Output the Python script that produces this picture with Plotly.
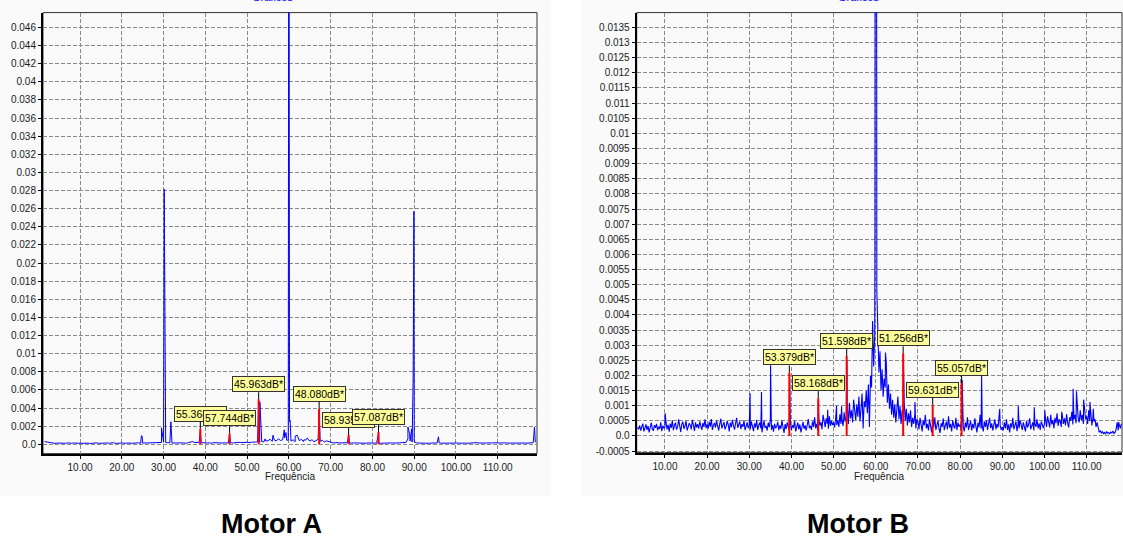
import plotly.graph_objects as go

FONT = "Liberation Sans, Arial, Helvetica, sans-serif"
UNIT = 1e-5  # spectrum values below are in units of 1e-5

# ---------------- Motor A spectrum ----------------
motor_a_start = 1.5
motor_a_step = 0.5
motor_a_base = [
    30, 25, 18, 12, 15, 10, 14, 12, 9, 13, 11, 15, 10, 12, 14, 9, 12, 11,
    13, 10, 15, 12, 9, 14, 11, 16, 10, 12, 13, 9, 15, 11, 12, 18, 10, 13, 11, 14,
    12, 15, 10, 13, 11, 14, 12, 16, 10, 13, 14, 11, 15, 12, 18, 14, 22, 16, 20, 25,
    20, 16, 18, 14, 15, 12, 14, 16, 13, 15, 12, 20, 25, 30, 18, 22, 15, 18, 14, 16,
    14, 16, 12, 18, 15, 13, 17, 14, 16, 18, 15, 20, 14, 18, 16, 22, 18, 15, 20, 24,
    18, 22, 20, 25, 28, 22, 30, 26, 35, 40, 55, 32, 48, 36, 60, 42, 50, 70, 45, 9000,
    35, 50, 28, 100, 40, 55, 30, 45, 60, 35, 50, 28, 40, 55, 32, 45, 25, 38, 30, 22,
    18, 15, 20, 14, 16, 12, 15, 18, 13, 14, 16, 12, 15, 13, 11, 14, 12, 15, 13, 12,
    14, 12, 15, 11, 13, 12, 14, 11, 15, 13, 12, 14, 16, 18, 15, 20, 60, 35, 25, 30,
    16, 14, 12, 15, 13, 14, 11, 13, 15, 12, 14, 16, 12, 13, 15, 12, 14, 11, 13, 12,
    14, 12, 15, 13, 11, 14, 16, 12, 15, 18, 14, 12, 16, 13, 15, 12, 14, 17, 13, 15,
    14, 16, 12, 15, 13, 14, 12, 16, 14, 12, 15, 13, 14, 12, 15, 13, 18, 22,
]
motor_a_peak_freq = [24.7, 24.85, 29.5, 30.15, 30.3, 31.75, 36.6, 38.8, 45.8, 52.76, 53.05,
                     54.3, 55.2, 56.2, 57.3, 58.9, 59.3, 59.85, 59.95, 60.15, 60.3, 61.5, 62.3,
                     63.6, 64.4, 65.7, 67.24, 74.3, 81.46, 88.5, 88.9, 89.4, 89.75, 89.93,
                     95.8, 118.8]
motor_a_peak_amp = [95, 90, 182, 2816, 2000, 248, 30, 150, 110, 480, 467,
                    60, 45, 100, 55, 160, 130, 45, 9000, 250, 265, 90, 55,
                    50, 70, 45, 380, 90, 125, 190, 120, 170, 720, 2570,
                    83, 190]
motor_a_marker_freq = [38.8, 45.8, 52.76, 67.24, 74.3, 81.46]
motor_a_marker_amp = [0.00174, 0.0012, 0.00497, 0.00393, 0.00102, 0.00135]
motor_a_marker_label = ["55.368dB*", "57.744dB*", "45.963dB*", "48.080dB*", "58.935dB*", "57.087dB*"]
motor_a_yticks = ["0.0", "0.002", "0.004", "0.006", "0.008", "0.01", "0.012", "0.014",
                  "0.016", "0.018", "0.02", "0.022", "0.024", "0.026", "0.028", "0.03",
                  "0.032", "0.034", "0.036", "0.038", "0.04", "0.042", "0.044", "0.046"]

# ---------------- Motor B spectrum ----------------
motor_b_start = 3.5
motor_b_step = 0.25
motor_b_base = [
    28, 22, 35, 18, 30, 41, 15, 26, 38, 20, 33, 12, 29, 44, 24, 17, 36, 27, 40, 19, 31, 23, 45, 16, 34, 25,
    30, 48, 22, 37, 14, 41, 27, 52, 19, 35, 44, 21, 30, 55, 26, 13, 39, 47, 24, 33,
    50, 18, 29, 42, 36, 22, 53, 31, 17, 45, 28, 39, 24, 48, 34, 20, 43, 30, 55, 26,
    38, 24, 47, 31, 56, 20, 35, 43, 28, 51, 33, 18, 40, 57, 25, 36, 46, 22, 31, 49,
    38, 15, 44, 29, 53, 34, 21, 42, 60, 27, 37, 48, 23, 39, 30, 52, 19, 33, 45, 26,
    35, 22, 48, 30, 16, 42, 28, 53, 20, 34, 45, 25, 12, 38, 50, 27, 33, 18, 44, 29,
    55, 21, 36, 14, 40, 26, 31, 47, 19, 35, 24, 52, 28, 10, 39, 23, 45, 30, 17, 42,
    20, 36, 27, 50, 15, 31, 44, 22, 38, 12, 29, 47, 24, 35, 18, 42, 56, 26, 33, 20,
    48, 30, 62, 25, 40, 18, 55, 34, 46, 22, 70, 38, 29, 58, 41, 24, 65, 33, 50, 36,
    45, 28, 60, 36, 52, 30, 72, 40, 55, 33, 78, 48, 62, 95, 40, 110, 58, 85, 45, 120,
    70, 52, 105, 64, 130, 48, 88, 140, 25, 115, 95, 150, 75, 170, 30, 200, 160, 380, 230, 330,
    6000, 480, 330, 210, 280, 150, 220, 130, 190, 160, 240, 110, 170, 90, 140, 70, 120, 60, 105, 45,
    90, 130, 55, 100, 40, 85, 70, 110, 50, 90, 35, 75, 45, 85, 30, 60, 40, 70, 25, 55,
    48, 22, 60, 30, 15, 52, 35, 70, 25, 40, 18, 55, 33, 12, 45, 28, 62, 20, 38, 50,
    24, 10, 42, 30, 58, 19, 35, 47, 22, 65, 28, 40, 15, 52, 33, 25, 60, 20, 44, 30,
    38, 22, 55, 30, 15, 45, 28, 62, 20, 35, 50, 18, 40, 25, 58, 32, 12, 44, 28, 70,
    24, 36, 15, 48, 30, 52, 20, 38, 60, 26, 42, 18, 33, 55, 22, 40, 28, 65, 35, 20,
    30, 18, 45, 25, 55, 20, 38, 12, 42, 28, 60, 22, 35, 48, 16, 40, 26, 52, 30, 20,
    45, 33, 15, 50, 28, 38, 58, 22, 35, 45, 18, 40, 30, 55, 25, 42, 20, 48, 34, 26,
    40, 58, 30, 65, 45, 28, 70, 38, 52, 25, 60, 42, 75, 33, 55, 48, 30, 68, 40, 58,
    35, 72, 45, 28, 62, 50, 80, 38, 55, 70, 42, 90, 60, 45, 85, 52, 70, 40, 95, 55,
    65, 40, 85, 50, 72, 35, 60, 48, 55, 30, 45, 28, 12, 18, 10, 14, 8, 12, 6, 15,
    9, 11, 7, 13, 10, 16, 8, 12, 22, 45, 18, 35, 25, 40,
]
motor_b_peak_freq = [10.05, 30.2, 32.9, 35.05, 39.55, 46.4, 48.6, 50.7, 51.9, 53.15, 59.8,
                     62.3, 66.55, 69.3, 73.6, 80.5, 85.1, 89.4, 93.8, 97.6, 100.1, 104.1,
                     106.8, 107.6, 109.3, 110.8, 111.6, 117.6]
motor_b_peak_amp = [75, 141, 145, 234, 205, 120, 87, 100, 98, 250, 600,
                    276, 260, 112, 60, 185, 200, 90, 100, 95, 84, 80,
                    156, 148, 120, 112, 90, 46]
motor_b_marker_freq = [39.5, 46.36, 53.1, 66.5, 73.5, 80.35]
motor_b_marker_amp = [0.0021, 0.00125, 0.00265, 0.00273, 0.00104, 0.00175]
motor_b_marker_label = ["53.379dB*", "58.168dB*", "51.598dB*", "51.256dB*", "59.631dB*", "55.057dB*"]
motor_b_yticks = ["-0.0005", "0.0", "0.0005", "0.001", "0.0015", "0.002", "0.0025", "0.003",
                  "0.0035", "0.004", "0.0045", "0.005", "0.0055", "0.006", "0.0065", "0.007",
                  "0.0075", "0.008", "0.0085", "0.009", "0.0095", "0.01", "0.0105", "0.011",
                  "0.0115", "0.012", "0.0125", "0.013", "0.0135"]

freq_ticks = ["10.00", "20.00", "30.00", "40.00", "50.00", "60.00",
              "70.00", "80.00", "90.00", "100.00", "110.00"]
titles = ["Motor A", "Motor B"]
x_title = "Frequência"
top_title = "Gráficos"


def spectrum(start, step, base, pk_f, pk_a):
    pts = [(start + step * i, v * UNIT) for i, v in enumerate(base)]
    pts += [(f, a * UNIT) for f, a in zip(pk_f, pk_a)]
    pts.sort(key=lambda p: p[0])
    return [p[0] for p in pts], [p[1] for p in pts]


def marker_lines(freqs, amps):
    xs, ys = [], []
    for f, a in zip(freqs, amps):
        xs += [f, f, None]
        ys += [0, a, None]
    return xs, ys


W, H = 1123, 540
fig = go.Figure()

panels = [
    dict(start=motor_a_start, step=motor_a_step, base=motor_a_base,
         pf=motor_a_peak_freq, pa=motor_a_peak_amp,
         mf=motor_a_marker_freq, ma=motor_a_marker_amp, ml=motor_a_marker_label,
         yt=motor_a_yticks, px=(43, 537), py=(12.7, 457), lw=1.0,
         xr=[1.13, 119.4], yr=[-0.00103, 0.04764], xa="x", ya="y",
         bg=(0, 551), title_x=271, top_x=272),
    dict(start=motor_b_start, step=motor_b_step, base=motor_b_base,
         pf=motor_b_peak_freq, pa=motor_b_peak_amp,
         mf=motor_b_marker_freq, ma=motor_b_marker_amp, ml=motor_b_marker_label,
         yt=motor_b_yticks, px=(636.7, 1122), py=(12.7, 456), lw=1.1,
         xr=[3.3, 118.4], yr=[-0.00055, 0.01399], xa="x2", ya="y2",
         bg=(582, 1123), title_x=858, top_x=858),
]

annotations = []
shapes = []
for i, p in enumerate(panels):
    fx, fy = spectrum(p["start"], p["step"], p["base"], p["pf"], p["pa"])
    fig.add_trace(go.Scatter(x=fx, y=fy, mode="lines", xaxis=p["xa"], yaxis=p["ya"],
                             line=dict(color="#0000ff", width=p["lw"]), showlegend=False,
                             hoverinfo="skip"))
    mx, my = marker_lines(p["mf"], p["ma"])
    fig.add_trace(go.Scatter(x=mx, y=my, mode="lines", xaxis=p["xa"], yaxis=p["ya"],
                             line=dict(color="#ff0000", width=2), showlegend=False,
                             hoverinfo="skip"))
    for f, a, lab in zip(p["mf"], p["ma"], p["ml"]):
        annotations.append(dict(
            x=f, y=a, xref=p["xa"], yref=p["ya"], text=lab, showarrow=True,
            arrowhead=0, arrowwidth=1, arrowcolor="black", ax=0, ay=-7,
            xanchor="center", yanchor="bottom", bgcolor="#ffff99",
            bordercolor="#333333", borderwidth=1, borderpad=1,
            font=dict(family=FONT, size=10.5, color="black")))

    suffix = "" if i == 0 else "2"
    x0, x1 = p["px"]
    y0, y1 = p["py"]
    common = dict(showgrid=True, gridcolor="#8a8a8a", griddash="4px,2px", gridwidth=1,
                  zeroline=False, showline=True, linecolor="black", linewidth=2,
                  ticks="outside", ticklen=3, tickcolor="black",
                  tickfont=dict(family=FONT, size=10, color="#1a1a1a"))
    fig.update_layout(**{
        "xaxis" + suffix: dict(domain=[x0 / W, x1 / W], range=p["xr"], anchor=p["ya"],
                               tickvals=[float(t) for t in freq_ticks], ticktext=freq_ticks,
                               **common),
        "yaxis" + suffix: dict(domain=[1 - y1 / H, 1 - y0 / H], range=p["yr"], anchor=p["xa"],
                               tickvals=[float(t) for t in p["yt"]], ticktext=p["yt"],
                               **common),
    })
    # widget background
    shapes.append(dict(type="rect", xref="paper", yref="paper", x0=p["bg"][0] / W,
                       x1=p["bg"][1] / W, y0=1 - 500 / H, y1=1, fillcolor="#fafafa",
                       line=dict(width=0), layer="below"))
    # plot frame
    shapes.append(dict(type="rect", xref=p["xa"] + " domain", yref=p["ya"] + " domain",
                       x0=0, x1=1, y0=0, y1=1, line=dict(color="#333333", width=1),
                       layer="below"))
    annotations.append(dict(x=(x0 + x1) / 2 / W, y=1 - 480 / H, xref="paper", yref="paper",
                            text=x_title, showarrow=False, xanchor="center", yanchor="middle",
                            font=dict(family=FONT, size=10, color="#1a1a1a")))
    annotations.append(dict(x=p["title_x"] / W, y=1 - 528 / H, xref="paper", yref="paper",
                            text="<b>" + titles[i] + "</b>", showarrow=False,
                            xanchor="center", yanchor="middle",
                            font=dict(family=FONT, size=27, color="black")))
    annotations.append(dict(x=p["top_x"] / W, y=1, xref="paper", yref="paper",
                            text=top_title, showarrow=False, xanchor="center",
                            yanchor="middle", yshift=3,
                            font=dict(family=FONT, size=11, color="#0000ff")))

fig.update_layout(width=W, height=H, margin=dict(l=0, r=0, t=0, b=0),
                  paper_bgcolor="white", plot_bgcolor="white",
                  annotations=annotations, shapes=shapes, showlegend=False)

fig.write_html("out.html", config={"displayModeBar": False},
               post_script="document.body.style.margin='0';document.body.style.padding='0';"
                           "document.body.style.overflow='hidden';")
